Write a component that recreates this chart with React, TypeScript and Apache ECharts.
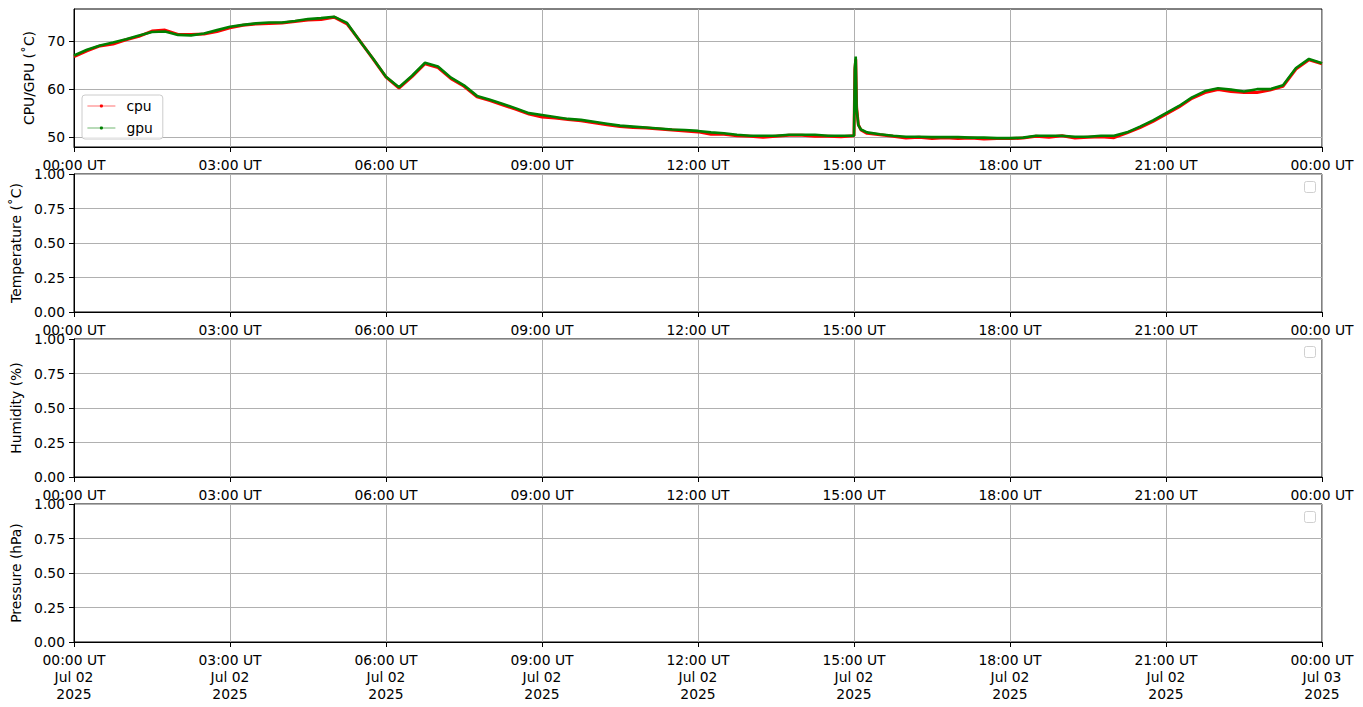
import React, { useEffect, useRef } from "react";
import * as echarts from "echarts";

// Sample times (UT, 2 Jul 2025) and readings
const times = [
  "00:00", "00:15", "00:30", "00:45", "01:00", "01:15", "01:30", "01:45",
  "02:00", "02:15", "02:30", "02:45", "03:00", "03:15", "03:30", "03:45",
  "04:00", "04:15", "04:30", "04:45", "05:00", "05:15", "05:30", "05:45",
  "06:00", "06:15", "06:30", "06:45", "07:00", "07:15", "07:30", "07:45",
  "08:00", "08:15", "08:30", "08:45", "09:00", "09:15", "09:30", "09:45",
  "10:00", "10:15", "10:30", "10:45", "11:00", "11:15", "11:30", "11:45",
  "12:00", "12:15", "12:30", "12:45", "13:00", "13:15", "13:30", "13:45",
  "14:00", "14:15", "14:30", "14:45", "15:00", "15:01", "15:02", "15:03",
  "15:05", "15:08", "15:15", "15:30", "15:45", "16:00", "16:15", "16:30",
  "16:45", "17:00", "17:15", "17:30", "17:45", "18:00", "18:15", "18:30",
  "18:45", "19:00", "19:15", "19:30", "19:45", "20:00", "20:15", "20:30",
  "20:45", "21:00", "21:15", "21:30", "21:45", "22:00", "22:15", "22:30",
  "22:45", "23:00", "23:15", "23:30", "23:45", "24:00",
];

const cpuTemp = [
  66.8, 68.0, 69.0, 69.4, 70.3, 71.0, 72.1, 72.3,
  71.4, 71.4, 71.5, 72.0, 72.8, 73.3, 73.6, 73.7,
  73.8, 74.1, 74.4, 74.5, 75.0, 73.6, 70.0, 66.3,
  62.5, 60.2, 62.6, 65.3, 64.5, 62.2, 60.6, 58.4,
  57.6, 56.7, 55.8, 54.8, 54.2, 54.0, 53.7, 53.4,
  53.0, 52.6, 52.2, 52.0, 51.9, 51.7, 51.5, 51.3,
  51.1, 50.6, 50.6, 50.3, 50.2, 50.0, 50.2, 50.4,
  50.4, 50.2, 50.2, 50.1, 50.3, 64.0, 66.2, 56.3,
  52.6, 51.5, 50.8, 50.5, 50.2, 49.8, 50.0, 49.7,
  49.9, 49.7, 49.8, 49.6, 49.7, 49.7, 49.8, 50.2,
  50.0, 50.3, 49.8, 50.0, 50.1, 49.9, 50.9, 52.0,
  53.3, 54.8, 56.3, 58.1, 59.3, 59.9, 59.5, 59.3,
  59.3, 59.8, 60.6, 64.2, 66.1, 65.3,
];

const gpuTemp = [
  67.0, 68.2, 69.1, 69.7, 70.4, 71.2, 71.9, 72.0,
  71.3, 71.2, 71.6, 72.3, 73.0, 73.4, 73.7, 73.9,
  73.9, 74.2, 74.6, 74.8, 75.1, 73.8, 70.0, 66.4,
  62.6, 60.4, 62.8, 65.5, 64.7, 62.4, 60.8, 58.6,
  57.8, 56.9, 56.0, 55.0, 54.6, 54.2, 53.8, 53.6,
  53.2, 52.8, 52.4, 52.2, 52.0, 51.8, 51.6, 51.5,
  51.3, 51.0, 50.8, 50.5, 50.3, 50.3, 50.3, 50.5,
  50.5, 50.5, 50.3, 50.3, 50.3, 64.5, 66.8, 56.0,
  52.5, 51.6, 51.0, 50.6, 50.3, 50.1, 50.1, 50.0,
  50.0, 50.0, 49.9, 49.9, 49.8, 49.8, 49.9, 50.3,
  50.3, 50.3, 50.1, 50.1, 50.3, 50.3, 51.0, 52.2,
  53.5, 55.0, 56.5, 58.3, 59.6, 60.2, 59.9, 59.5,
  60.0, 60.0, 60.8, 64.4, 66.3, 65.4,
];

const hourTickLabels = [
  "00:00 UT", "03:00 UT", "06:00 UT", "09:00 UT", "12:00 UT",
  "15:00 UT", "18:00 UT", "21:00 UT", "00:00 UT",
];
const dateTickLabels = [
  "Jul 02", "Jul 02", "Jul 02", "Jul 02", "Jul 02",
  "Jul 02", "Jul 02", "Jul 02", "Jul 03",
];
const yearTickLabel = "2025";
const cpuYTicks = [50, 60, 70];
const emptyYTicks = [0, 0.25, 0.5, 0.75, 1];
const panelNames = ["CPU/GPU (˚C)", "Temperature (˚C)", "Humidity (%)", "Pressure (hPa)"];
const seriesNames = ["cpu", "gpu"];

function toHours(t: string): number {
  const [h, m] = t.split(":").map(Number);
  return h + m / 60;
}

const FONT = "DejaVu Sans";
const FS = 13.89;

export default function App() {
  const ref = useRef<HTMLDivElement>(null);

  useEffect(() => {
    if (!ref.current) return;
    const chart = echarts.init(ref.current, undefined, { renderer: "svg" });

    const gridTops = [9, 174, 339, 504];
    const gridH = 138;
    const nameGaps = [33, 48, 46, 46];

    const grids = gridTops.map((top) => ({
      left: 74,
      top,
      width: 1248,
      height: gridH,
      show: true,
      borderColor: "#000",
      borderWidth: 1,
      backgroundColor: "transparent",
    }));

    const xAxes = gridTops.map((_, i) => ({
      type: "value",
      gridIndex: i,
      min: 0,
      max: 24,
      interval: 3,
      axisLine: { show: true, onZero: false, lineStyle: { color: "#000", width: 1 } },
      axisTick: { show: true, length: 5, lineStyle: { color: "#000", width: 1 } },
      splitLine: { show: true, lineStyle: { color: "#b0b0b0", width: 1 } },
      axisLabel: {
        show: true,
        margin: 9,
        color: "#000",
        fontFamily: FONT,
        fontSize: FS,
        lineHeight: 17,
        showMinLabel: true,
        showMaxLabel: true,
        formatter: (v: number) => {
          const idx = Math.round(v / 3);
          if (i === 3) {
            return hourTickLabels[idx] + "\n" + dateTickLabels[idx] + "\n" + yearTickLabel;
          }
          return hourTickLabels[idx];
        },
      },
    }));

    const yAxes = gridTops.map((_, i) => {
      const base: any = {
        type: "value",
        gridIndex: i,
        name: panelNames[i],
        nameLocation: "middle",
        nameGap: nameGaps[i],
        nameTextStyle: { color: "#000", fontFamily: FONT, fontSize: FS },
        axisLine: { show: true, onZero: false, lineStyle: { color: "#000", width: 1 } },
        axisTick: { show: true, length: 5, lineStyle: { color: "#000", width: 1 } },
        splitLine: { show: true, lineStyle: { color: "#b0b0b0", width: 1 } },
        axisLabel: {
          show: true,
          margin: 9,
          color: "#000",
          fontFamily: FONT,
          fontSize: FS,
        },
      };
      if (i === 0) {
        base.min = 47.95;
        base.max = 76.7;
        base.axisTick.customValues = cpuYTicks;
        base.axisLabel.customValues = cpuYTicks;
        base.axisLabel.formatter = (v: number) => String(v);
      } else {
        base.min = emptyYTicks[0];
        base.max = emptyYTicks[emptyYTicks.length - 1];
        base.interval = 0.25;
        base.axisLabel.formatter = (v: number) => v.toFixed(2);
      }
      return base;
    });

    const cpuData = times.map((t, k) => [toHours(t), cpuTemp[k]]);
    const gpuData = times.map((t, k) => [toHours(t), gpuTemp[k]]);

    const boxY = [181.5, 346.5, 511.5];

    chart.setOption({
      animation: false,
      textStyle: { fontFamily: FONT },
      grid: grids,
      xAxis: xAxes,
      yAxis: yAxes,
      legend: {
        show: true,
        data: seriesNames,
        orient: "vertical",
        left: 82,
        top: 95,
        padding: [4, 10, 4, 5],
        itemGap: 8,
        itemWidth: 28,
        itemHeight: 4,
        borderColor: "#cccccc",
        borderWidth: 1,
        borderRadius: 3,
        backgroundColor: "rgba(255,255,255,0.8)",
        lineStyle: { width: 0.8, opacity: 0.7 },
        textStyle: { color: "#000", fontFamily: FONT, fontSize: FS, padding: [0, 0, 0, 6] },
      },
      series: [
        {
          name: seriesNames[0],
          type: "line",
          xAxisIndex: 0,
          yAxisIndex: 0,
          data: cpuData,
          symbol: "circle",
          symbolSize: 3,
          showSymbol: false,
          color: "#ff0000",
          lineStyle: { color: "#ff0000", width: 3 },
          itemStyle: { color: "#ff0000" },
        },
        {
          name: seriesNames[1],
          type: "line",
          xAxisIndex: 0,
          yAxisIndex: 0,
          data: gpuData,
          symbol: "circle",
          symbolSize: 3,
          showSymbol: false,
          color: "#008000",
          lineStyle: { color: "#008000", width: 2.6 },
          itemStyle: { color: "#008000" },
        },
      ],
      graphic: boxY.map((y) => ({
        type: "rect",
        shape: { x: 1304.5, y, width: 11, height: 11, r: 2 },
        style: { fill: "#fff", stroke: "#d0d0d0", lineWidth: 1 },
      })),
    });

    return () => chart.dispose();
  }, []);

  return (
    <div
      ref={ref}
      style={{ position: "fixed", left: 0, top: 0, width: 1363, height: 707, background: "#fff" }}
    />
  );
}
